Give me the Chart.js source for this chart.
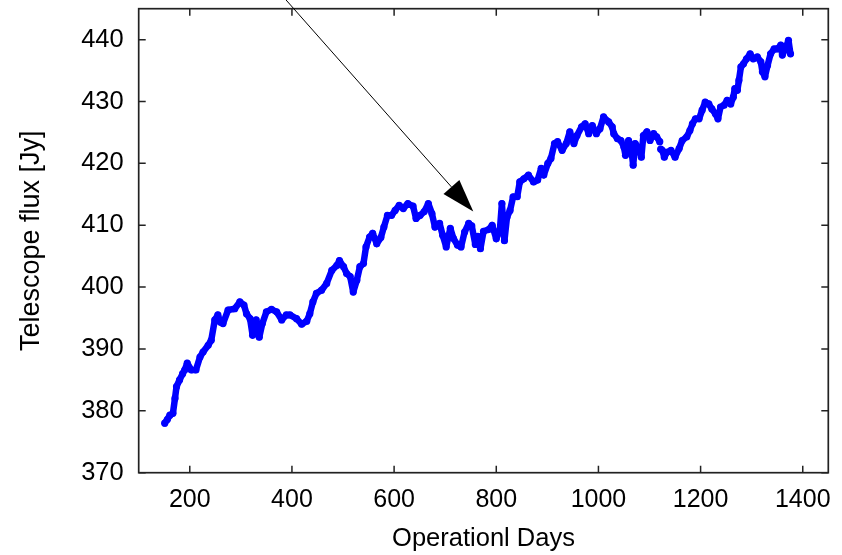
<!DOCTYPE html>
<html>
<head>
<meta charset="utf-8">
<script src="https://cdn.jsdelivr.net/npm/chart.js@4/dist/chart.umd.min.js"></script>
<style>
  html, body { margin: 0; padding: 0; background: #ffffff; }
  #wrap { width: 842px; height: 555px; position: relative; }
</style>
</head>
<body>
<div id="wrap"><canvas id="c" width="842" height="555"></canvas></div>
<script>
// Operational day of each measurement (null flux marks a data gap)
const days = [
  151, 156, 161, 167, 171, 174, 180, 186, 190, 195, 203, 212, 220, 226, 236, 242,
  249, 255, 260, 265, 275, 288, 298, 306, 311, 318, 323, 330, 336, 342, 350, 360,
  370, 380, 389, 396, 409, 419, 429, 435, 441, 448, 458, 468, 478, 488, 493, 501,
  507, 514, 520, 527, 533, 540, 545, 552, 558, 566, 574, 580, 587, 595, 602, 610,
  618, 627, 637, 643, 651, 659, 667, 674, 680, 689, 695, 702, 710, 716, 724, 731,
  738, 746, 752, 759, 764, 769, 775, 785, 792, 800, 807, 811, 816, 821, 827, 833,
  841, 846, 854, 863, 873, 881, 888, 893, 901, 907, 914, 920, 929, 937, 944, 952,
  958, 967, 974, 981, 988, 996, 1003, 1010, 1020, 1027, 1030, 1037, 1044, 1050, 1053, 1059,
  1064, 1068, 1072, 1079, 1084, 1088, 1095, 1101, 1108, 1114, 1120, 1121, 1122, 1125, 1129, 1134, 1142, 1150,
  1158, 1164, 1173, 1179, 1184, 1190, 1197, 1203, 1209, 1216, 1222, 1229, 1234, 1239, 1246, 1252,
  1259, 1264, 1267, 1272, 1275, 1279, 1284, 1290, 1297, 1303, 1311, 1318, 1321, 1326, 1331, 1337,
  1344, 1350, 1357, 1360, 1366, 1372, 1376
];

// Telescope flux in Jy
const flux = [
  378.0, 378.6, 379.3, 379.6, 382.0, 383.9, 385.0, 386.0, 386.6, 387.7, 386.6, 386.6, 388.7, 389.5, 390.6, 391.4,
  394.7, 395.5, 394.3, 394.1, 396.3, 396.5, 397.6, 397.1, 395.7, 394.9, 392.2, 394.7, 391.9, 394.1, 396.0, 396.4,
  396.0, 394.7, 395.5, 395.5, 394.9, 394.0, 394.5, 395.7, 397.6, 399.0, 399.5, 400.6, 402.7, 403.5, 404.3, 403.3,
  402.2, 401.7, 399.2, 401.1, 403.3, 403.8, 406.5, 408.1, 408.7, 407.0, 408.0, 409.7, 411.6, 411.6, 412.4, 413.2,
  412.7, 413.5, 413.1, 411.1, 411.6, 412.2, 413.5, 411.9, 409.7, 410.3, 408.4, 406.5, 409.5, 407.9, 406.8, 406.5,
  408.9, 410.3, 409.9, 406.9, 408.2, 406.2, 409.0, 409.3, 410.0, 407.8, 409.2, 413.5, 407.5, 411.3, 412.4, 414.6,
  414.6, 417.0, 417.5, 418.1, 417.0, 417.3, 419.2, 418.1, 420.0, 420.8, 423.2, 423.5, 422.1, 423.2, 425.1, 423.2,
  424.5, 425.9, 426.4, 424.8, 426.1, 424.8, 425.6, 427.5, 426.7, 425.9, 424.8, 424.0, 423.7, 422.6, 421.3, 423.7,
  422.6, 419.7, 423.2, 422.4, 421.0, 424.5, 425.1, 423.7, 424.8, 424.3, 423.5, null, 422.3, 422.1, 421.0, 421.8, 422.1, 421.0,
  422.4, 423.7, 424.3, 425.3, 426.4, 427.2, 427.2, 428.6, 429.9, 429.6, 428.8, 428.0, 427.2, 429.1, 429.4, 430.2,
  429.6, 430.7, 432.1, 431.8, 433.4, 435.6, 436.1, 436.9, 437.7, 436.9, 437.2, 436.4, 434.8, 434.0, 435.8, 437.7,
  438.5, 438.5, 439.1, 437.5, 438.5, 439.9, 437.7
];

// Axis tick values
const xTicks = [200, 400, 600, 800, 1000, 1200, 1400];
const yTicks = [370, 380, 390, 400, 410, 420, 430, 440];

// Axis ranges
const xRange = [100, 1450];
const yRange = [370, 445];

// Annotation arrow, in data coordinates
const arrowFrom = { x: 350, y: 450 };
const arrowTo = { x: 755, y: 412.2 };

const FONT = "'Liberation Sans', Arial, Helvetica, sans-serif";

// Frame, inward tick marks on all four sides, and the annotation arrow
const framePlugin = {
  id: 'frame',
  afterDraw(chart) {
    const ctx = chart.ctx;
    const a = chart.chartArea;
    const xs = chart.scales.x, ys = chart.scales.y;
    const tl = 7;
    ctx.save();
    ctx.strokeStyle = '#222';
    ctx.lineWidth = 1.5;
    ctx.beginPath();
    xs.ticks.forEach(t => {
      const px = xs.getPixelForValue(t.value);
      ctx.moveTo(px, a.bottom); ctx.lineTo(px, a.bottom - tl);
      ctx.moveTo(px, a.top); ctx.lineTo(px, a.top + tl);
    });
    ys.ticks.forEach(t => {
      const py = ys.getPixelForValue(t.value);
      ctx.moveTo(a.left, py); ctx.lineTo(a.left + tl, py);
      ctx.moveTo(a.right, py); ctx.lineTo(a.right - tl, py);
    });
    ctx.stroke();
    ctx.lineWidth = 1.7;
    ctx.strokeRect(a.left, a.top, a.right - a.left, a.bottom - a.top);

    // arrow
    const x0 = xs.getPixelForValue(arrowFrom.x), y0 = ys.getPixelForValue(arrowFrom.y);
    const x1 = xs.getPixelForValue(arrowTo.x), y1 = ys.getPixelForValue(arrowTo.y);
    const dx = x1 - x0, dy = y1 - y0, len = Math.hypot(dx, dy);
    const ux = dx / len, uy = dy / len;
    const headLen = 33, headHalf = 10.6;
    const bx = x1 - ux * headLen, by = y1 - uy * headLen;
    ctx.strokeStyle = '#000';
    ctx.lineWidth = 1;
    ctx.beginPath();
    ctx.moveTo(x0, y0);
    ctx.lineTo(bx, by);
    ctx.stroke();
    ctx.fillStyle = '#000';
    ctx.beginPath();
    ctx.moveTo(x1, y1);
    ctx.lineTo(bx - uy * headHalf, by + ux * headHalf);
    ctx.lineTo(bx + uy * headHalf, by - ux * headHalf);
    ctx.closePath();
    ctx.fill();
    ctx.restore();
  }
};

new Chart(document.getElementById('c'), {
  type: 'line',
  data: {
    datasets: [{
      data: days.map((d, i) => ({ x: d, y: flux[i] })),
      borderColor: '#0000ff',
      backgroundColor: '#0000ff',
      borderWidth: 6.5,
      borderJoinStyle: 'round',
      borderCapStyle: 'round',
      pointRadius: 3.6,
      pointBorderWidth: 0,
      pointBackgroundColor: '#0000ff',
      spanGaps: false,
      tension: 0,
      fill: false
    }]
  },
  options: {
    responsive: false,
    animation: false,
    events: [],
    layout: { padding: { left: 0, right: 13.7, top: 8.7, bottom: 0 } },
    plugins: { legend: { display: false }, tooltip: { enabled: false } },
    scales: {
      x: {
        type: 'linear',
        min: xRange[0], max: xRange[1],
        afterBuildTicks: s => { s.ticks = xTicks.map(v => ({ value: v })); },
        afterFit: s => { s.height = 82.3; s.paddingLeft = 0; s.paddingRight = 0; },
        grid: { display: false, drawTicks: false },
        border: { display: false },
        ticks: { color: '#000', font: { family: FONT, size: 25 }, padding: 12, maxRotation: 0, autoSkip: false, callback: v => String(v) },
        title: { display: true, text: 'Operationl Days', color: '#000', font: { family: FONT, size: 25.5 }, padding: { top: 0, bottom: 1 } }
      },
      y: {
        type: 'linear',
        min: yRange[0], max: yRange[1],
        afterBuildTicks: s => { s.ticks = yTicks.map(v => ({ value: v })); },
        afterFit: s => { s.width = 138.7; s.paddingTop = 0; s.paddingBottom = 0; },
        grid: { display: false, drawTicks: false },
        border: { display: false },
        ticks: { color: '#000', font: { family: FONT, size: 25.5 }, padding: 15, autoSkip: false, callback: v => String(v) },
        title: { display: true, text: 'Telescope flux [Jy]', color: '#000', font: { family: FONT, size: 27 }, padding: { top: 15, bottom: 0 } }
      }
    }
  },
  plugins: [framePlugin]
});
</script>
</body>
</html>
